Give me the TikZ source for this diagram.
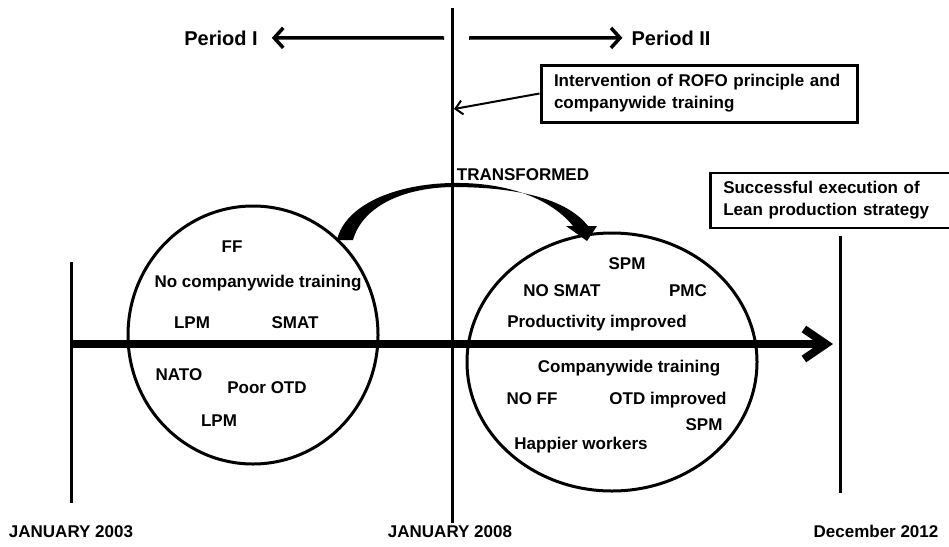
\documentclass[tikz,border=0pt]{standalone}
\usepackage{fontspec}
\setmainfont{Liberation Sans}
\usetikzlibrary{arrows.meta,shapes.geometric}

\tikzset{
    word node/.style={font=\bfseries\fontsize{17}{22}\selectfont, inner sep=0pt, anchor=base},
    period node/.style={word node, font=\bfseries\fontsize{20}{24}\selectfont},
    box node/.style={draw, line width=3pt, align=left, inner xsep=13pt, inner ysep=2pt,
        font=\bfseries\fontsize{17}{22}\selectfont},
    ring node/.style={ellipse, draw, line width=3pt, inner sep=0pt},
    bold/.style={line width=3pt},
    axis/.style={line width=8pt, -{Straight Barb[length=22pt,width=30pt]}},
    period arrow/.style={line width=3.5pt, -{Straight Barb[length=9pt,width=20pt]}},
    pointer/.style={line width=2pt, -{Straight Barb[length=7pt,width=14pt]}}
    }

\begin{document}
\begin{tikzpicture}[x=1pt,y=-1pt]
    \clip (0,0) rectangle (949,546);

    \coordinate (mtop) at (452,8);
    \coordinate (mbot) at (452,523);
    \coordinate (ltop) at (71,262);
    \coordinate (lbot) at (71,503);
    \coordinate (rtop) at (840,236);
    \coordinate (rbot) at (840,493);
    \coordinate (axl) at (71,344);
    \coordinate (axr) at (833,344);
    \coordinate (pl) at (444,38);
    \coordinate (pr) at (469,38);
    \coordinate (hit) at (454,109);

    \node(old)[ring node, minimum width=250, minimum height=258] at (253,335) {};
    \node(new)[ring node, minimum width=290, minimum height=258] at (612,362) {};

    \draw[bold] (mtop) -- (mbot);
    \draw[bold] (ltop) -- (lbot);
    \draw[bold] (rtop) -- (rbot);
    \draw[axis] (axl) -- (axr);

    \node(per1)[period node] at (221,45) {Period I};
    \node(per2)[period node] at (671,45) {Period II};
    \draw[period arrow, shorten >=14pt] (pl) -- (per1.east);
    \draw[period arrow, shorten >=9pt] (pr) -- (per2.west);

    \node(ibox)[box node, text width=290, minimum height=57] at (699,93.5)
        {Intervention of ROFO principle and\\companywide training};
    \draw[pointer] (ibox.west) -- (hit);

    \node(goal)[box node, line width=2.5pt, text width=234, minimum height=55, anchor=west] at (709,200.5)
        {Successful execution of\\Lean production strategy};

    \node(trans)[word node] at (523,180) {TRANSFORMED};
    \fill (337,240) .. controls (345,205) and (395,184) .. (452,183)
        .. controls (510,182) and (552,200) .. (573,226)
        -- (566,226) -- (587,241) -- (597,226) -- (588,226)
        .. controls (566,198) and (515,187) .. (452,187)
        .. controls (400,188) and (362,208) .. (353,240) -- cycle;

    \node(ff)[word node] at (232,252) {FF};
    \node(nct)[word node] at (258,287) {No companywide training};
    \node(lpma)[word node] at (192,328) {LPM};
    \node(smat)[word node] at (295,328) {SMAT};
    \node(nato)[word node] at (179,380) {NATO};
    \node(potd)[word node] at (267,393) {Poor OTD};
    \node(lpmb)[word node] at (219,426) {LPM};

    \node(spma)[word node] at (627,269) {SPM};
    \node(nsmat)[word node] at (562,296) {NO SMAT};
    \node(pmc)[word node] at (688,296) {PMC};
    \node(prod)[word node] at (597,327) {Productivity improved};
    \node(cwt)[word node] at (629,372) {Companywide training};
    \node(noff)[word node] at (532,404) {NO FF};
    \node(otd)[word node] at (668,404) {OTD improved};
    \node(spmb)[word node] at (704,430) {SPM};
    \node(happy)[word node] at (581,449) {Happier workers};

    \node(d1)[word node] at (71,537) {JANUARY 2003};
    \node(d2)[word node] at (450,537) {JANUARY 2008};
    \node(d3)[word node] at (876,537) {December 2012};
\end{tikzpicture}
\end{document}
